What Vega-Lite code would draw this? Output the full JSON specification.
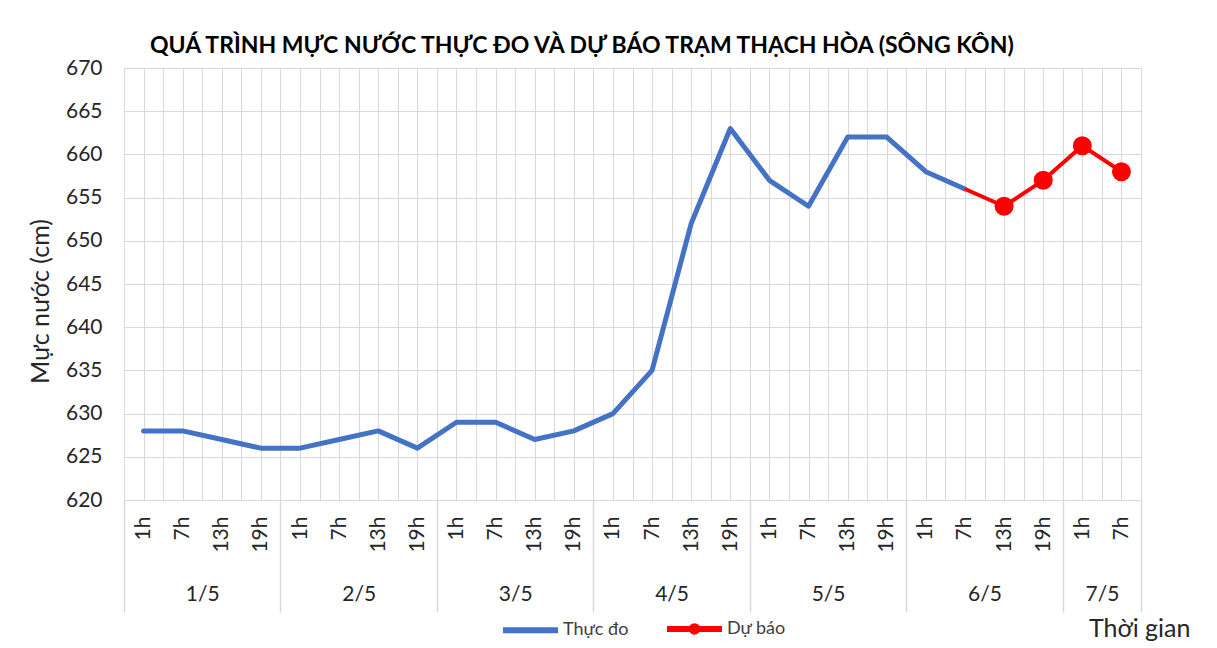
{
  "$schema": "https://vega.github.io/schema/vega-lite/v6.json",
  "autosize": "none",
  "width": 1017,
  "height": 432,
  "padding": {"left": 124, "top": 68, "right": 76, "bottom": 148},
  "background": "white",
  "config": {
    "font": "Lato",
    "view": {"stroke": "#d9d9d9"},
    "axis": {"labelFont": "Lato", "titleFont": "Lato", "labelColor": "#262626", "titleColor": "#262626", "gridColor": "#d9d9d9", "gridWidth": 1, "domainColor": "#d9d9d9"}
  },
  "title": {
    "text": "QUÁ TRÌNH MỰC NƯỚC THỰC ĐO VÀ DỰ BÁO TRẠM THẠCH HÒA (SÔNG KÔN)",
    "anchor": "start",
    "frame": "group",
    "dx": 26,
    "dy": 32,
    "offset": 13,
    "baseline": "alphabetic",
    "font": "Lato",
    "fontSize": 23,
    "fontWeight": "bold",
    "color": "#000000"
  },
  "data": {
    "values": [
      {"idx": 0, "date": "1/5", "hour": "1h", "value": 628, "series": "Thực đo"},
      {"idx": 1, "date": "1/5", "hour": "7h", "value": 628, "series": "Thực đo"},
      {"idx": 2, "date": "1/5", "hour": "13h", "value": 627, "series": "Thực đo"},
      {"idx": 3, "date": "1/5", "hour": "19h", "value": 626, "series": "Thực đo"},
      {"idx": 4, "date": "2/5", "hour": "1h", "value": 626, "series": "Thực đo"},
      {"idx": 5, "date": "2/5", "hour": "7h", "value": 627, "series": "Thực đo"},
      {"idx": 6, "date": "2/5", "hour": "13h", "value": 628, "series": "Thực đo"},
      {"idx": 7, "date": "2/5", "hour": "19h", "value": 626, "series": "Thực đo"},
      {"idx": 8, "date": "3/5", "hour": "1h", "value": 629, "series": "Thực đo"},
      {"idx": 9, "date": "3/5", "hour": "7h", "value": 629, "series": "Thực đo"},
      {"idx": 10, "date": "3/5", "hour": "13h", "value": 627, "series": "Thực đo"},
      {"idx": 11, "date": "3/5", "hour": "19h", "value": 628, "series": "Thực đo"},
      {"idx": 12, "date": "4/5", "hour": "1h", "value": 630, "series": "Thực đo"},
      {"idx": 13, "date": "4/5", "hour": "7h", "value": 635, "series": "Thực đo"},
      {"idx": 14, "date": "4/5", "hour": "13h", "value": 652, "series": "Thực đo"},
      {"idx": 15, "date": "4/5", "hour": "19h", "value": 663, "series": "Thực đo"},
      {"idx": 16, "date": "5/5", "hour": "1h", "value": 657, "series": "Thực đo"},
      {"idx": 17, "date": "5/5", "hour": "7h", "value": 654, "series": "Thực đo"},
      {"idx": 18, "date": "5/5", "hour": "13h", "value": 662, "series": "Thực đo"},
      {"idx": 19, "date": "5/5", "hour": "19h", "value": 662, "series": "Thực đo"},
      {"idx": 20, "date": "6/5", "hour": "1h", "value": 658, "series": "Thực đo"},
      {"idx": 21, "date": "6/5", "hour": "7h", "value": 656, "series": "Thực đo"},
      {"idx": 21, "date": "6/5", "hour": "7h", "value": 656, "series": "Dự báo"},
      {"idx": 22, "date": "6/5", "hour": "13h", "value": 654, "series": "Dự báo"},
      {"idx": 23, "date": "6/5", "hour": "19h", "value": 657, "series": "Dự báo"},
      {"idx": 24, "date": "7/5", "hour": "1h", "value": 661, "series": "Dự báo"},
      {"idx": 25, "date": "7/5", "hour": "7h", "value": 658, "series": "Dự báo"}
    ]
  },
  "encoding": {
    "y": {
      "field": "value",
      "type": "quantitative",
      "scale": {"domain": [620, 670], "nice": false, "zero": false},
      "axis": {
        "title": "Mực nước (cm)",
        "titleFontSize": 25,
        "titleFontWeight": "normal",
        "titlePadding": 12,
        "titleY": 233,
        "values": [620, 625, 630, 635, 640, 645, 650, 655, 660, 665, 670],
        "labelFontSize": 21,
        "labelPadding": 22,
        "ticks": false,
        "domain": false,
        "grid": true
      }
    }
  },
  "layer": [
    {
      "transform": [{"filter": "datum.series == 'Thực đo'"}],
      "mark": {"type": "line", "strokeWidth": 5, "strokeJoin": "round", "strokeCap": "round"},
      "encoding": {
        "x": {
          "field": "idx",
          "type": "quantitative",
          "scale": {"domain": [-0.5, 25.5], "nice": false, "zero": false},
          "axis": {
            "orient": "bottom",
            "title": null,
            "values": [0,1,2,3,4,5,6,7,8,9,10,11,12,13,14,15,16,17,18,19,20,21,22,23,24,25],
            "labelExpr": "['1h','7h','13h','19h'][datum.value % 4]",
            "labelAngle": 270,
            "labelFontSize": 21,
            "labelPadding": 16,
            "ticks": false,
            "domain": true,
            "grid": true
          }
        },
        "color": {
          "field": "series",
          "type": "nominal",
          "scale": {"domain": ["Thực đo", "Dự báo"], "range": ["#4472C4", "#FF0000"]},
          "legend": {
            "title": null,
            "orient": "none",
            "direction": "horizontal",
            "legendX": 376,
            "legendY": 530,
            "symbolType": "stroke",
            "symbolStrokeWidth": 6,
            "symbolSize": 3025,
            "labelFontSize": 18,
            "labelColor": "#404040",
            "columnPadding": 26,
            "labelOffset": 2,
            "encode": {
              "symbols": {
                "update": {
                  "shape": {"signal": "datum.label == 'Dự báo' ? 'M-1,0H1M-0.1,0A0.1,0.1 0 1,0 0.1,0A0.1,0.1 0 1,0 -0.1,0Z' : 'stroke'"},
                  "fill": {"signal": "datum.label == 'Dự báo' ? '#FF0000' : 'transparent'"},
                  "fillOpacity": {"value": 1}
                }
              }
            }
          }
        }
      }
    },
    {
      "transform": [{"filter": "datum.series == 'Dự báo'"}],
      "mark": {"type": "line", "strokeWidth": 4, "strokeJoin": "round"},
      "encoding": {
        "x": {
          "field": "idx",
          "type": "quantitative",
          "axis": {
            "orient": "bottom",
            "title": null,
            "values": [-0.5,0.5,1.5,2.5,3.5,4.5,5.5,6.5,7.5,8.5,9.5,10.5,11.5,12.5,13.5,14.5,15.5,16.5,17.5,18.5,19.5,20.5,21.5,22.5,23.5,24.5,25.5],
            "labels": false,
            "ticks": false,
            "domain": false,
            "grid": true
          }
        },
        "color": {"field": "series", "type": "nominal"}
      }
    },
    {
      "transform": [{"filter": "datum.series == 'Dự báo' && datum.idx > 21"}],
      "mark": {"type": "point", "filled": true, "size": 360, "color": "#FF0000", "opacity": 1},
      "encoding": {
        "x": {
          "field": "idx",
          "type": "quantitative",
          "axis": {
            "orient": "bottom",
            "title": null,
            "values": [-0.5, 3.5, 7.5, 11.5, 15.5, 19.5, 23.5, 25.5],
            "labels": false,
            "ticks": true,
            "tickSize": 112,
            "tickColor": "#d9d9d9",
            "tickWidth": 1.5,
            "domain": false,
            "grid": false
          }
        }
      }
    },
    {
      "transform": [{"filter": "datum.series == 'Thực đo'"}],
      "mark": {"type": "point", "opacity": 0},
      "encoding": {
        "x": {
          "field": "idx",
          "type": "quantitative",
          "axis": {
            "orient": "bottom",
            "values": [1.5, 5.5, 9.5, 13.5, 17.5, 21.5, 24.5],
            "labelExpr": "['1/5','2/5','3/5','4/5','5/5','6/5','7/5'][floor(datum.value / 4)]",
            "labelFontSize": 21,
            "labelPadding": 83,
            "ticks": false,
            "domain": false,
            "grid": false,
            "title": "Thời gian",
            "titleFontSize": 25,
            "titleFontWeight": "normal",
            "titleAnchor": "end",
            "titleAlign": "right",
            "titleBaseline": "middle",
            "titleX": 1066,
            "titleY": 128
          }
        }
      }
    }
  ],
  "resolve": {"axis": {"x": "independent"}}
}
